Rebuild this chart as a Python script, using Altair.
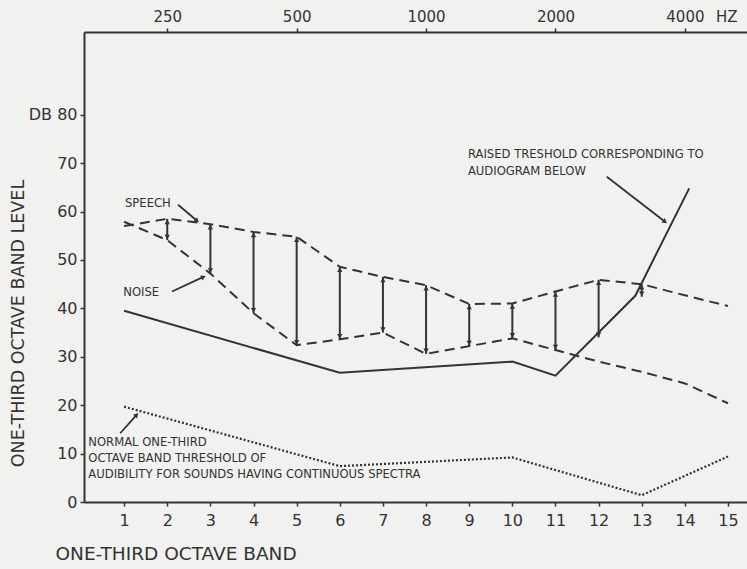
import math
import altair as alt
import pandas as pd

# ---------------- data ----------------
bands = list(range(1, 16))
speech_db = [57.0, 58.5, 57.4, 55.8, 54.8, 48.6, 46.5, 44.8, 40.9, 41.0, 43.5, 45.9, 45.0, 42.7, 40.5]
noise_db = [57.9, 54.1, 47.2, 39.0, 32.4, 33.6, 35.0, 30.6, 32.2, 33.8, 31.4, 29.0, 26.9, 24.5, 20.4]

thr_band = [1, 6, 10, 11, 12.85, 14.1]
thr_db = [39.5, 26.7, 29.0, 26.1, 42.6, 64.8]

norm_band = [1, 6, 10, 13, 15]
norm_db = [19.7, 7.4, 9.2, 1.4, 9.4]

arrow_band = list(range(2, 14))
arrow_top = [58.5, 57.4, 55.8, 54.8, 48.6, 46.5, 44.8, 40.9, 41.0, 43.5, 45.9, 45.0]
arrow_bottom = [54.1, 47.2, 39.0, 32.4, 33.6, 35.0, 30.6, 32.2, 33.8, 31.4, 34.0, 42.4]

y_ticks = [0, 10, 20, 30, 40, 50, 60, 70, 80]
x_ticks = bands
freq_bands = [2, 5, 8, 11, 14]
freq_labels = ["250", "500", "1000", "2000", "4000"]
hz_text = ["HZ"]
hz_band = [14.97]

note_text = ["SPEECH", "NOISE", "RAISED TRESHOLD CORRESPONDING  TO", "AUDIOGRAM  BELOW",
             "NORMAL ONE-THIRD", "OCTAVE BAND THRESHOLD OF",
             "AUDIBILITY  FOR SOUNDS HAVING CONTINUOUS SPECTRA"]
note_band = [1.02, 0.98, 8.97, 8.97, 0.17, 0.17, 0.17]
note_db = [61.6, 43.2, 71.7, 68.2, 12.1, 8.9, 5.6]

ptr_from_band = [2.25, 2.11, 12.19, 0.91]
ptr_from_db = [61.4, 43.5, 67.2, 14.2]
ptr_to_band = [2.69, 2.84, 13.54, 1.29]
ptr_to_db = [58.1, 46.5, 57.9, 18.0]

# ---------------- layout ----------------
W, H = 663, 470
XMIN, XMAX = 0.07, 15.44
YMAX = 97.1
INK = "#333333"
BG = "#f1f1ef"
FONT = "DejaVu Sans"

xs = alt.Scale(domain=[XMIN, XMAX], nice=False, zero=False)
ys = alt.Scale(domain=[0, YMAX], nice=False, zero=True)

speech_df = pd.DataFrame({"band": bands, "db": speech_db})
noise_df = pd.DataFrame({"band": bands, "db": noise_db})
thr_df = pd.DataFrame({"band": thr_band, "db": thr_db})
norm_df = pd.DataFrame({"band": norm_band, "db": norm_db})
arr_df = pd.DataFrame({"band": arrow_band, "top": arrow_top, "bottom": arrow_bottom})
note_df = pd.DataFrame({"text": note_text, "band": note_band, "db": note_db})
ptr_df = pd.DataFrame({"b0": ptr_from_band, "d0": ptr_from_db, "b1": ptr_to_band, "d1": ptr_to_db})
ppb = W / (XMAX - XMIN)
ppd = H / YMAX
ptr_df["ang"] = [
    math.degrees(math.atan2((b1 - b0) * ppb, (d1 - d0) * ppd)) % 360
    for b0, d0, b1, d1 in zip(ptr_from_band, ptr_from_db, ptr_to_band, ptr_to_db)
]
hz_df = pd.DataFrame({"text": hz_text, "band": hz_band})

label_expr_top = " : ".join(
    [f"datum.value == {b} ? '{l}'" for b, l in zip(freq_bands, freq_labels)]
) + " : ''"

bottom_axis = alt.Axis(
    orient="bottom", values=x_ticks, format="d", grid=False,
    domainColor=INK, domainWidth=2, tickColor=INK, tickWidth=1.5, tickSize=4,
    labelFont=FONT, labelFontSize=16, labelColor=INK, labelPadding=6,
    title="ONE-THIRD OCTAVE BAND", titleFont=FONT, titleFontSize=18.5,
    titleFontWeight="normal", titleColor=INK, titleAnchor="start",
    titleAlign="left", titleBaseline="middle", titleX=-29, titleY=51,
)
top_axis = alt.Axis(
    orient="top", values=freq_bands, labelExpr=label_expr_top, grid=False,
    domainColor=INK, domainWidth=2, tickColor=INK, tickWidth=1.5, tickSize=4,
    labelFont=FONT, labelFontSize=15, labelColor=INK, labelPadding=4, title=None,
)
left_axis = alt.Axis(
    orient="left", values=y_ticks, grid=False,
    labelExpr="datum.value == 80 ? 'DB 80' : datum.label",
    domainColor=INK, domainWidth=2, tickColor=INK, tickWidth=1.5, tickSize=4,
    labelFont=FONT, labelFontSize=16, labelColor=INK, labelPadding=3,
    title="ONE-THIRD OCTAVE BAND LEVEL", titleFont=FONT, titleFontSize=17.5,
    titleFontWeight="normal", titleColor=INK, titleAngle=270,
    titleAlign="center", titleBaseline="middle", titleX=-66, titleY=291,
)


def X(field, axis=None):
    return alt.X(field, type="quantitative", scale=xs, axis=axis)


def Y(field):
    return alt.Y(field, type="quantitative", scale=ys, axis=left_axis)


speech = alt.Chart(speech_df).mark_line(
    color=INK, strokeWidth=2, strokeDash=[10, 6]
).encode(x=X("band", bottom_axis), y=Y("db"))

noise = alt.Chart(noise_df).mark_line(
    color=INK, strokeWidth=2, strokeDash=[10, 6]
).encode(x=X("band"), y=Y("db"))

thr = alt.Chart(thr_df).mark_line(color=INK, strokeWidth=2).encode(
    x=X("band"), y=Y("db"))

norm = alt.Chart(norm_df).mark_line(
    color=INK, strokeWidth=2.2, strokeDash=[2, 2]
).encode(x=X("band", top_axis), y=Y("db"))

arr_rule = alt.Chart(arr_df).mark_rule(color=INK, strokeWidth=2).encode(
    x=X("band"), y=Y("top"), y2="bottom:Q")

arr_up = alt.Chart(arr_df).mark_point(
    shape="triangle-up", filled=True, color=INK, size=28, opacity=1, yOffset=3
).encode(x=X("band"), y=Y("top"))

arr_dn = alt.Chart(arr_df).mark_point(
    shape="triangle-down", filled=True, color=INK, size=28, opacity=1, yOffset=-3
).encode(x=X("band"), y=Y("bottom"))

notes = alt.Chart(note_df).mark_text(
    align="left", baseline="middle", font=FONT, fontSize=11.6, color=INK
).encode(x=X("band"), y=Y("db"), text="text:N")

ptr_line = alt.Chart(ptr_df).mark_rule(color=INK, strokeWidth=1.8).encode(
    x=X("b0"), y=Y("d0"), x2="b1:Q", y2="d1:Q")

ptr_head = alt.Chart(ptr_df).mark_point(
    shape="triangle-up", filled=True, color=INK, size=30, opacity=1
).encode(x=X("b1"), y=Y("d1"), angle=alt.Angle("ang:Q", scale=None))

hz = alt.Chart(hz_df).mark_text(
    align="center", baseline="middle", font=FONT, fontSize=15, color=INK
).encode(x=X("band"), y=alt.value(-15), text="text:N")

chart = alt.layer(
    speech, noise, thr, norm, arr_rule, arr_up, arr_dn, notes, ptr_line, ptr_head, hz
).properties(
    width=W, height=H,
    autosize=alt.AutoSizeParams(type="none"),
    padding={"left": 84, "top": 32, "right": 0, "bottom": 67},
    background=BG,
).configure_view(stroke=None)

chart.save("out.html", embed_options={"renderer": "svg", "actions": False})
